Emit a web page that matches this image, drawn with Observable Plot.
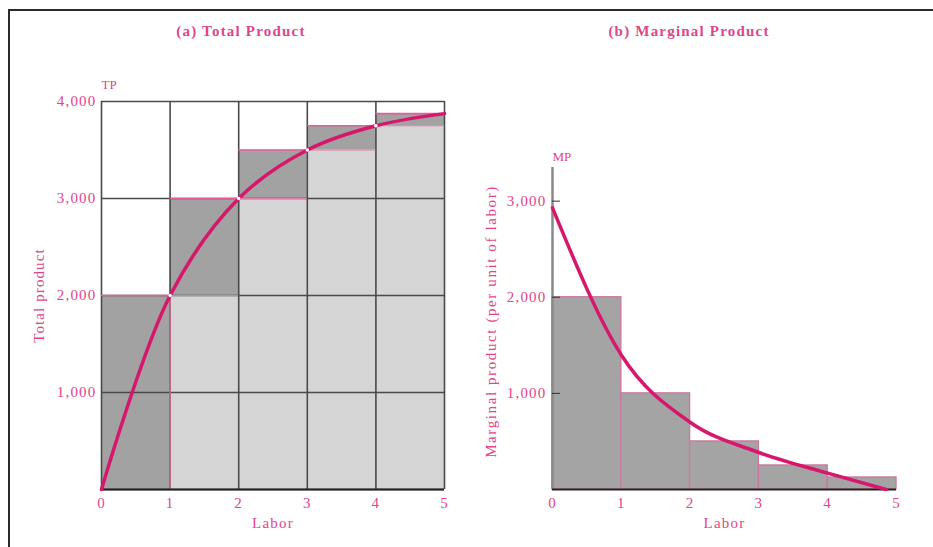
<!DOCTYPE html>
<html>
<head>
<meta charset="utf-8">
<script src="https://cdn.jsdelivr.net/npm/d3@7"></script>
<script src="https://cdn.jsdelivr.net/npm/@observablehq/plot@0.6"></script>
<style>
  html, body { margin: 0; padding: 0; background: #fff; }
  #page { position: relative; width: 933px; height: 547px; overflow: hidden; background: #fff; }
  #border { position: absolute; left: 8px; top: 9px; right: -4px; bottom: -4px; border-top: 2px solid #2a2a2a; border-left: 2px solid #2a2a2a; }
  .title { position: absolute; top: 23px; font-family: "Liberation Serif", "DejaVu Serif", serif; font-weight: bold; font-size: 15px; letter-spacing: 1.2px; color: #e0458a; transform: translateX(-50%); white-space: nowrap; }
  .panel { position: absolute; top: 60px; }
</style>
</head>
<body>
<div id="page">
  <div id="border"></div>
  <div class="title" style="left:241px">(a) Total Product</div>
  <div class="title" style="left:689px">(b) Marginal Product</div>
  <div id="left" class="panel" style="left:0px"></div>
  <div id="right" class="panel" style="left:466px"></div>
</div>
<script>
// ---- data ----
const labor = [0, 1, 2, 3, 4, 5];
const totalProduct = [0, 2000, 3000, 3500, 3750, 3875];
const marginalProduct = [2000, 1000, 500, 250, 125];
const tpTicks = [1000, 2000, 3000, 4000];
const mpTicks = [1000, 2000, 3000];
// smooth marginal-product curve
const mpCurveX = [0, 1, 2, 3, 4, 4.85];
const mpCurveY = [2930, 1400, 700, 385, 170, 0];

const pink = "#e0458a";
const curvePink = "#d6176b";
const font = '"Liberation Serif", "DejaVu Serif", serif';
const fmt = d3.format(",");

const tpPoints = labor.map((l, i) => ({x: l, y: totalProduct[i]}));
const steps = labor.slice(1).map((l, i) => ({x1: labor[i], x2: l, lo: totalProduct[i], hi: totalProduct[i + 1]}));
const mpBars = marginalProduct.map((v, i) => ({x1: labor[i], x2: labor[i + 1], y: v}));
const mpCurve = mpCurveX.map((x, i) => ({x, y: mpCurveY[i]}));

const style = {fontFamily: font, fontSize: "15px", color: pink, background: "transparent", letterSpacing: "1.2px"};

// ---- (a) Total product ----
const left = Plot.plot({
  width: 466, height: 487,
  marginLeft: 101, marginRight: 22, marginTop: 41, marginBottom: 58,
  style,
  x: {domain: [0, 5]},
  y: {domain: [0, 4000]},
  marks: [
    Plot.rectY(steps, {x1: "x1", x2: "x2", y1: 0, y2: "lo", fill: "#d5d5d5"}),
    Plot.rectY(steps, {x1: "x1", x2: "x2", y1: "lo", y2: "hi", fill: "#a2a2a2"}),
    Plot.gridX(labor, {stroke: "#4a4a4a", strokeOpacity: 1, strokeWidth: 1.6}),
    Plot.gridY([0, ...tpTicks], {stroke: "#4a4a4a", strokeOpacity: 1, strokeWidth: 1.6}),
    Plot.ruleX(steps.slice(0, 1), {x: "x2", y1: 0, y2: "hi", stroke: "#d0709a", strokeWidth: 1.4}),
    Plot.ruleY(steps, {y: "hi", x1: "x1", x2: "x2", stroke: "#e0609a", strokeWidth: 1.6}),
    Plot.ruleY(steps.slice(1), {y: "lo", x1: "x1", x2: "x2", stroke: "#e07aa6", strokeWidth: 1.2}),
    Plot.ruleY([0], {stroke: "#222", strokeWidth: 2}),
    Plot.line(tpPoints, {x: "x", y: "y", curve: "catmull-rom", stroke: curvePink, strokeWidth: 3.5}),
    Plot.dot(tpPoints.slice(1, 5), {x: "x", y: "y", r: 1.8, fill: "#fff", stroke: "none"}),
    Plot.axisX(labor, {tickSize: 0, tickPadding: 8, fill: pink, fontSize: 15}),
    Plot.axisY(tpTicks, {tickSize: 0, tickPadding: 5, tickFormat: fmt, fill: pink, fontSize: 15, label: null}),
    Plot.text(["TP"], {frameAnchor: "top-left", dy: -22, fill: pink, fontSize: 13}),
    Plot.text(["Total product"], {frameAnchor: "left", textAnchor: "middle", dx: -62, rotate: -90, fill: pink, fontSize: 15}),
    Plot.text(["Labor"], {frameAnchor: "bottom", dy: 38, fill: pink, fontSize: 15})
  ]
});
document.getElementById("left").appendChild(left);

// ---- (b) Marginal product ----
const right = Plot.plot({
  width: 467, height: 487,
  marginLeft: 86, marginRight: 37, marginTop: 107, marginBottom: 58,
  style,
  x: {domain: [0, 5]},
  y: {domain: [0, 3350]},
  marks: [
    Plot.rectY(mpBars, {x1: "x1", x2: "x2", y1: 0, y2: "y", fill: "#a4a4a4", stroke: "#c97aa0", strokeWidth: 1.4}),
    Plot.ruleX([0], {stroke: "#8a8a8a", strokeWidth: 2.5}),
    Plot.ruleY([0], {stroke: "#222", strokeWidth: 2}),
    Plot.line(mpCurve, {x: "x", y: "y", curve: "monotone-x", stroke: curvePink, strokeWidth: 3.5}),
    Plot.axisX(labor, {tickSize: 0, tickPadding: 8, fill: pink, fontSize: 15}),
    Plot.axisY(mpTicks, {tickSize: -8, tickPadding: 14, stroke: "#333", tickFormat: fmt, fill: pink, fontSize: 15, label: null}),
    Plot.text(["MP"], {frameAnchor: "top-left", dy: -16, fill: pink, fontSize: 13}),
    Plot.text(["Marginal product (per unit of labor)"], {frameAnchor: "left", textAnchor: "middle", dx: -61, dy: -7, rotate: -90, fill: pink, fontSize: 15}),
    Plot.text(["Labor"], {frameAnchor: "bottom", dy: 38, fill: pink, fontSize: 15})
  ]
});
document.getElementById("right").appendChild(right);

// fine-tune letter spacing of the rotated axis titles
d3.selectAll("svg text").filter(function () { return this.textContent === "Total product"; }).style("letter-spacing", "1.1px");
d3.selectAll("svg text").filter(function () { return this.textContent === "Marginal product (per unit of labor)"; }).style("letter-spacing", "1.6px");
d3.selectAll("svg text").filter(function () { return this.textContent === "TP" || this.textContent === "MP"; }).style("letter-spacing", "0px");
</script>
</body>
</html>
